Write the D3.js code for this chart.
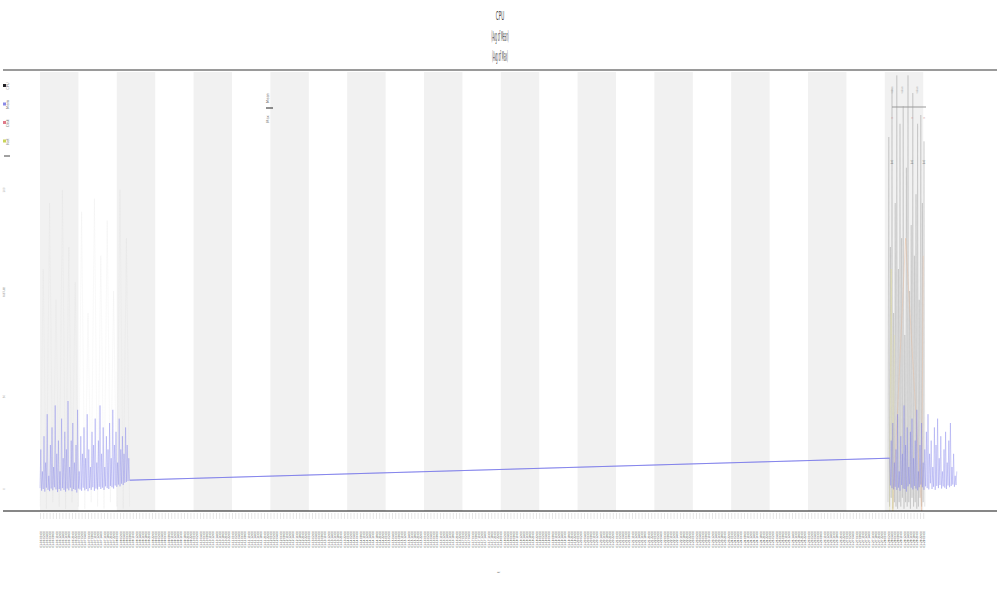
<!DOCTYPE html>
<html><head><meta charset="utf-8">
<script src="https://cdn.jsdelivr.net/npm/d3@7"></script>
<style>body{margin:0;background:#fff}svg{display:block}text{font-family:"Liberation Sans Narrow","DejaVu Sans Condensed",sans-serif}</style>
</head><body>
<svg id="c" width="1000" height="600"></svg>
<script>
// ---- data ----
const startDate = new Date(2020, 0, 6, 0, 0);
const titleLines = ["CPU", "(Avg of Mean)", "(Avg of Max)"];
const legendItems = ["CPU", "Mem", "Disk", "Net"];
const legendColors = ["#222222", "#8a8ae6", "#e07a8a", "#c8d45a"];
const yTicks = [5, 26, 73];
const yTickLabels = ["0", "50", "100"];
const xTitle = "t";
const yTitle = "value";

// blue series, cluster 1 (half-hourly, hours 0..56)
const blueHoursA = d3.range(0, 56.01, 0.5);
const blueValsA = [5.2,14,4.6,9,5.0,17,4.4,11,5.3,22,
  4.8,8,4.5,15,5.1,19,4.7,10,5.4,24,
  4.9,13,4.3,16,5.0,9,4.6,21,5.2,12,
  4.8,18,4.4,14,5.1,25,4.7,10,5.3,16,
  4.5,20,5.0,11,4.8,15,4.2,23,5.1,9,
  4.9,17,4.6,13,5.3,19,4.7,12,5.0,22,
  4.5,14,5.2,10,4.8,18,5.4,15,4.6,21,
  5.1,11,4.9,16,5.5,24,5.0,13,5.3,19,
  4.8,10,5.6,17,5.2,14,5.0,20,5.7,12,
  5.4,23,5.1,15,5.8,18,5.5,11,6.0,21,
  5.6,14,6.2,17,5.9,13,6.4,19,6.6,15,6.8,12,7.0];
// blue series, cluster 2 (half-hourly, hours 531..573)
const blueHoursB = d3.range(531, 573.01, 0.5);
const blueValsB = [12,5.8,16,5.2,20,4.9,11,5.5,14,4.8,
  22,5.3,9,4.6,17,5.9,13,5.1,24,5.0,
  15,4.4,19,5.6,10,6.1,18,5.3,21,4.9,
  12,5.7,16,5.1,23,4.7,9,5.4,15,6.0,
  20,5.4,11,4.8,14,5.6,18,5.2,22,4.9,
  13,6.3,16,5.0,10,5.5,19,4.8,15,5.7,
  21,5.2,12,5.9,17,5.1,9,5.6,14,5.3,
  18,5.0,11,5.8,16,5.4,20,5.7,10,6.0,
  13,5.5,8,5.9,9];
// grey series
const greyHoursA = d3.range(0, 56.01, 2);
const greyValsA = [1,55,0.5,70,2,48,1,73,0.5,60,2,52,1,68,0.5,45,2,71,1,58,0.5,66,2,50,1,73,0.5,62,1];
const greyHoursB = d3.range(530, 553.01, 0.5);
const greyValsB = [2,85,1,60,3,96,0.5,45,2,70,
  1,99,0.5,55,2,88,1,62,3,92,
  0.5,40,2,78,1,99,2,50,0.5,65,
  3,95,1,58,2,72,0.5,88,1,48,
  3,90,1,70,2,84,1];
const orangeHours = [533, 541, 551, 552];
const orangeVals = [0, 62, 0, 58];
const yellowHours = [531, 532, 533, 534];
const yellowVals = [0, 55, 0, 40];

// ---- layout ----
const svg = d3.select("#c");
const L = 3, R = 997, T = 71, B = 511;
const hour = 3600e3;
const x = d3.scaleTime()
  .domain([new Date(+startDate - 37/38.4*24*hour), new Date(+startDate + 957/38.4*24*hour)])
  .range([L, R]);
const y = d3.scaleLinear().domain([0, 100]).range([B, T]);
const H = h => new Date(+startDate + h*hour);

// shaded bands (alternate days)
const bandDays = d3.range(0, 23, 2);
svg.append("g").selectAll("rect").data(bandDays).join("rect")
  .attr("x", d => x(H(d*24))).attr("width", d => x(H(d*24+24)) - x(H(d*24)))
  .attr("y", T+1).attr("height", B - T - 1).attr("fill", "#f1f1f1");

// top border
svg.append("line").attr("x1", L).attr("x2", R).attr("y1", T-1).attr("y2", T-1)
  .attr("stroke", "#9a9a9a").attr("stroke-width", 2);

const line = d3.line().x(d => x(H(d[0]))).y(d => y(d[1]));
function series(hours, vals) { return hours.map((h, i) => [h, vals[i]]); }

// grey spikes
svg.append("path").datum(series(greyHoursA, greyValsA)).attr("d", line)
  .attr("fill", "none").attr("stroke", "#ccc").attr("stroke-width", 0.5).attr("opacity", 0.25);
svg.append("path").datum(series(greyHoursB, greyValsB)).attr("d", line)
  .attr("fill", "none").attr("stroke", "#888").attr("stroke-width", 0.6).attr("opacity", 0.4);
svg.append("path").datum(series(orangeHours, orangeVals)).attr("d", line)
  .attr("fill", "none").attr("stroke", "#f0b890").attr("stroke-width", 0.7).attr("opacity", 0.5);
svg.append("path").datum(series(yellowHours, yellowVals)).attr("d", line)
  .attr("fill", "none").attr("stroke", "#e6e090").attr("stroke-width", 0.7).attr("opacity", 0.5);

// blue series
const sA = series(blueHoursA, blueValsA), sB = series(blueHoursB, blueValsB);
const blueAll = sA.concat(sB);
svg.append("path").datum(blueAll).attr("d", line)
  .attr("fill", "none").attr("stroke", "#7474ea").attr("stroke-width", 0.6).attr("opacity", 0.55);
// the long gap segment of the same series is drawn solid
svg.append("path").datum([sA[sA.length-1], sB[0]]).attr("d", line)
  .attr("fill", "none").attr("stroke", "#7c7cea").attr("stroke-width", 1).attr("opacity", 0.9);

// x axis
const xTickDates = d3.timeHour.every(2).range(startDate, H(554));
const fmt = d3.timeFormat("%m-%d %H:%M");
const xAxis = svg.append("g").attr("transform", `translate(0,${B})`)
  .call(d3.axisBottom(x).tickValues(xTickDates).tickFormat(fmt).tickSizeOuter(0).tickSize(8));
xAxis.select(".domain").remove();
xAxis.selectAll(".tick line").attr("stroke", "#ccc").attr("stroke-width", 0.5).attr("y1", 2);
xAxis.selectAll(".tick text").attr("font-size", 3).attr("fill", "#333")
  .attr("transform", "rotate(-90)").attr("text-anchor", "end").attr("dy", "0.35em")
  .attr("x", -20).attr("y", 0);
svg.append("line").attr("x1", L).attr("x2", R).attr("y1", B).attr("y2", B)
  .attr("stroke", "#111").attr("stroke-width", 1.2);

// y axis labels (tiny, vertical)
svg.append("g").selectAll("text").data(yTicks).join("text")
  .attr("transform", (d) => `translate(5,${y(d)}) rotate(-90)`)
  .attr("text-anchor", "middle").attr("font-size", 3).attr("fill", "#999")
  .text((d, i) => yTickLabels[i]);
svg.append("text").attr("transform", `translate(5,292) rotate(-90)`)
  .attr("text-anchor", "middle").attr("font-size", 4).attr("fill", "#999").text(yTitle);

// x title
svg.append("text").attr("transform", `translate(500,572) rotate(-90)`)
  .attr("text-anchor", "middle").attr("font-size", 4).attr("fill", "#777").text(xTitle);

// title
const tg = svg.append("g");
tg.append("text").attr("transform", "translate(500,20) scale(0.35,1)").attr("text-anchor", "middle")
  .attr("font-size", 13).attr("fill", "#444").text(titleLines[0]);
tg.append("text").attr("transform", "translate(500,41) scale(0.2,1)").attr("text-anchor", "middle")
  .attr("font-size", 14).attr("fill", "#444").text(titleLines[1]);
tg.append("text").attr("transform", "translate(500,61) scale(0.2,1)").attr("text-anchor", "middle")
  .attr("font-size", 14).attr("fill", "#444").text(titleLines[2]);

// legend (top-left, vertical)
const lg = svg.append("g");
legendItems.forEach((t, i) => {
  const cy = 86 + i*18.5;
  lg.append("rect").attr("x", 3).attr("y", cy-2).attr("width", 3).attr("height", 3).attr("fill", legendColors[i]);
  lg.append("text").attr("transform", `translate(9,${cy}) rotate(-90)`).attr("text-anchor", "middle")
    .attr("font-size", 4).attr("fill", "#888").text(t);
});
lg.append("line").attr("x1", 4).attr("x2", 10).attr("y1", 156).attr("y2", 156).attr("stroke", "#444").attr("stroke-width", 1);

// second legend
const lg2 = svg.append("g");
lg2.append("text").attr("transform", "translate(269,98) rotate(-90)").attr("text-anchor", "middle")
  .attr("font-size", 4).attr("fill", "#777").text("Mean");
lg2.append("line").attr("x1", 266).attr("x2", 273).attr("y1", 108).attr("y2", 108).attr("stroke", "#222").attr("stroke-width", 1);
lg2.append("text").attr("transform", "translate(269,119) rotate(-90)").attr("text-anchor", "middle")
  .attr("font-size", 4).attr("fill", "#888").text("Max");

// right-cluster annotation
const ag = svg.append("g");
[893, 903, 918].forEach(px => {
  ag.append("text").attr("transform", `translate(${px},90) rotate(-90)`).attr("text-anchor", "middle")
    .attr("font-size", 3).attr("fill", "#aaa").text("value");
});
ag.append("line").attr("x1", 892).attr("x2", 926).attr("y1", 107).attr("y2", 107).attr("stroke", "#999").attr("stroke-width", 1);
[893, 913, 925].forEach(px => {
  ag.append("text").attr("transform", `translate(${px},118) rotate(-90)`).attr("text-anchor", "middle")
    .attr("font-size", 3).attr("fill", "#c88").text("x");
  ag.append("text").attr("transform", `translate(${px},162) rotate(-90)`).attr("text-anchor", "middle")
    .attr("font-size", 3).attr("fill", "#444").text("0.0");
});
</script>
</body></html>
